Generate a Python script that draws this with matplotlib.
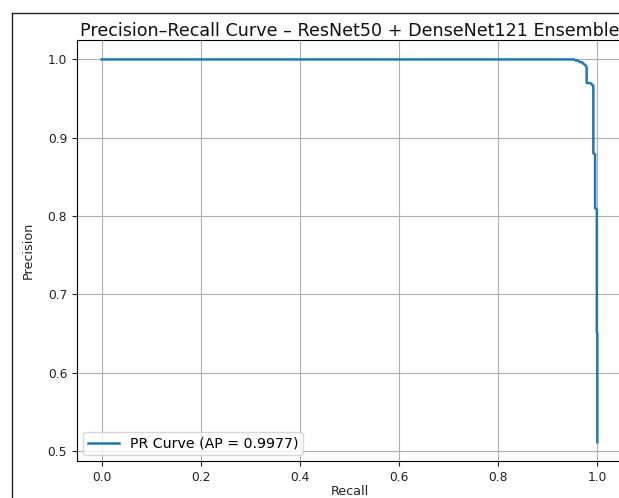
import matplotlib
matplotlib.use("Agg")
import matplotlib.pyplot as plt
from matplotlib.lines import Line2D

recall = [0.0, 0.953, 0.957, 0.961, 0.965, 0.969, 0.972, 0.976, 0.9785, 0.9785,
          0.987, 0.9905, 0.992, 0.992, 0.9955, 0.9955, 0.999, 0.999, 1.0, 1.0]
precision = [1.0, 1.0, 0.9985, 0.9985, 0.9965, 0.9965, 0.9945, 0.9925, 0.990, 0.970,
             0.9695, 0.967, 0.966, 0.880, 0.879, 0.810, 0.809, 0.651, 0.650, 0.511]
xticks = [0.0, 0.2, 0.4, 0.6, 0.8, 1.0]
yticks = [0.5, 0.6, 0.7, 0.8, 0.9, 1.0]
title = "Precision–Recall Curve – ResNet50 + DenseNet121 Ensemble"
legend_label = "PR Curve (AP = 0.9977)"

W, H = 619, 498
fig = plt.figure(figsize=(W / 100, H / 100), dpi=100)
left, right, top, bottom = 76.9, 622.1, 40.3, 461.3
ax = fig.add_axes([left / W, 1 - bottom / H, (right - left) / W, (bottom - top) / H])

ax.plot(recall, precision, color="#1f77b4", lw=1.8, label=legend_label)
ax.set_xlim(-0.05, 1.05)
ax.set_xticks(xticks)
ax.set_yticks(yticks)
ax.tick_params(labelsize=8.8, colors="#222222", labelcolor="#222222")
ax.grid(True, color="#b0b0b0", lw=0.8)
ax.set_xlabel("Recall", fontsize=9.2, labelpad=1, color="#222222")
ax.set_ylabel("Precision", fontsize=9.2, labelpad=9.5, color="#222222")
ax.set_title(title, fontsize=12.6, pad=3, color="#111111")
ax.legend(loc="lower left", fontsize=10.2, handlelength=2.2, borderpad=0.3,
          borderaxespad=0.45)

fig.add_artist(Line2D([12.3 / W, 12.3 / W], [0, 1 - 13.3 / H], color="#222222", lw=1.0,
                      transform=fig.transFigure))
fig.add_artist(Line2D([12.3 / W, 1], [1 - 13.3 / H, 1 - 13.3 / H], color="#222222", lw=1.0,
                      transform=fig.transFigure))

fig.savefig("out.png", dpi=100)
